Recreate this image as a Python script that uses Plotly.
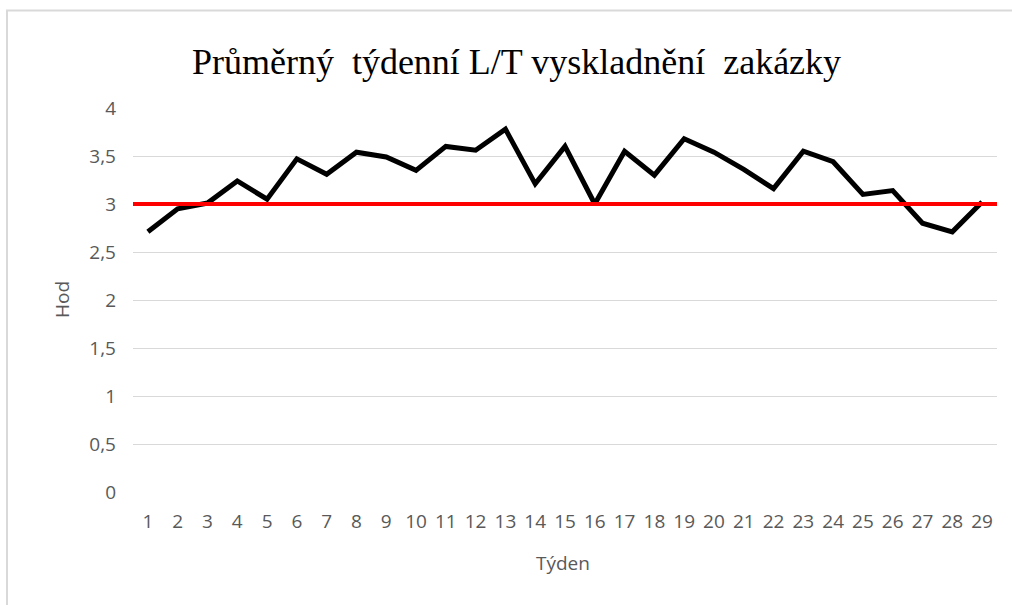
import plotly.graph_objects as go

# ---- data ----
weeks = list(range(1, 30))
lead_time = [2.71, 2.95, 3.01, 3.24, 3.05, 3.47, 3.31, 3.54, 3.49, 3.35,
             3.60, 3.56, 3.78, 3.21, 3.60, 3.00, 3.55, 3.30, 3.68, 3.54,
             3.36, 3.16, 3.55, 3.44, 3.10, 3.14, 2.80, 2.71, 3.02]
target = 3
y_tickvals = [0, 0.5, 1, 1.5, 2, 2.5, 3, 3.5, 4]
y_ticktext = ["0", "0,5", "1", "1,5", "2", "2,5", "3", "3,5", "4"]
title_text = "Průměrný\u00a0 týdenní L/T vyskladnění\u00a0 zakázky"
x_title = "Týden"
y_title = "Hod"

W, H = 1012, 605
L, R, T, B = 133, 15, 108, 113
PW, PH = W - L - R, H - T - B


def xp(px):
    return (px - L) / PW


def yp(py):
    return (H - B - py) / PH


tick_font = dict(family="Open Sans", size=19, color="#595959")

fig = go.Figure()
fig.add_trace(go.Scatter(
    x=weeks, y=lead_time, mode="lines",
    line=dict(color="#000000", width=5),
    showlegend=False, hoverinfo="x+y",
))

# target line
fig.add_shape(type="line", xref="paper", yref="y", x0=0, x1=1, y0=target, y1=target,
              line=dict(color="#FF0000", width=4), layer="above")

# outer chart frame (cropped on right/bottom)
fig.add_shape(type="rect", xref="paper", yref="paper",
              x0=xp(7), x1=xp(1040), y0=yp(640), y1=yp(10.5),
              line=dict(color="#d9d9d9", width=2), fillcolor="rgba(0,0,0,0)", layer="below")

fig.update_layout(
    width=W, height=H,
    margin=dict(l=L, r=R, t=T, b=B, pad=0),
    paper_bgcolor="white", plot_bgcolor="white",
    title=dict(text=title_text, x=516.5 / W, xref="container", xanchor="center",
               y=1 - 61 / H, yref="container", yanchor="middle",
               font=dict(family="Liberation Serif", size=36, color="#000000")),
    xaxis=dict(range=[0.5, 29.5], tickmode="array", tickvals=weeks,
               ticktext=[str(w) for w in weeks], showgrid=False, zeroline=False,
               showline=False, ticks="", tickfont=tick_font, ticklabelstandoff=16),
    yaxis=dict(range=[0, 4], tickmode="array", tickvals=y_tickvals, ticktext=y_ticktext,
               showgrid=True, gridcolor="#d9d9d9", gridwidth=1.3, zeroline=False,
               showline=False, ticks="", tickfont=tick_font, ticklabelstandoff=16),
    annotations=[
        dict(text=x_title, xref="paper", yref="paper", x=xp(563), y=yp(563),
             xanchor="center", yanchor="middle", showarrow=False, font=tick_font),
        dict(text=y_title, xref="paper", yref="paper", x=xp(62), y=yp(300),
             xanchor="center", yanchor="middle", showarrow=False, textangle=-90,
             font=tick_font),
    ],
)

fig.write_html("out.html", config={"displayModeBar": False},
               post_script="document.body.style.margin='0';document.body.style.overflow='hidden';")
